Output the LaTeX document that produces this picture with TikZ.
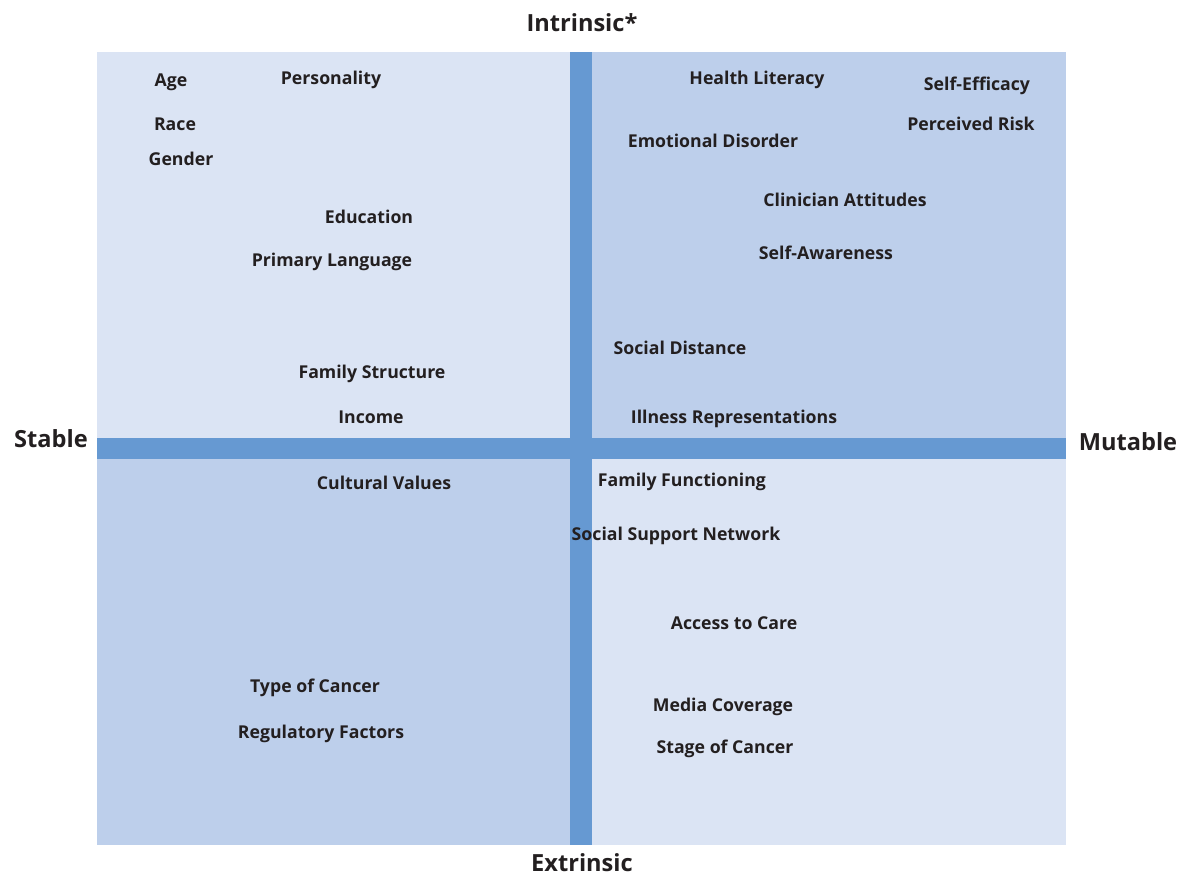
\documentclass[tikz,border=0pt]{standalone}
\usepackage{fontspec}
\setmainfont{Open Sans}
\definecolor{qlight}{HTML}{DBE4F4}
\definecolor{qdark}{HTML}{BDCFEB}
\definecolor{qbar}{HTML}{6699D2}
\definecolor{qtext}{HTML}{231F20}
\begin{document}
\begin{tikzpicture}[x=1pt,y=-1pt,
  lbl/.style={inner sep=0pt,anchor=base,text=qtext,font=\fontsize{17.7}{20}\selectfont\bfseries},
  axis/.style={inner sep=0pt,anchor=base,text=qtext,font=\fontsize{23.6}{28}\selectfont\bfseries}]
\useasboundingbox (0,0) rectangle (1187,876);
\fill[qlight] (97,52) rectangle (581,449);
\fill[qdark] (581,52) rectangle (1066,449);
\fill[qdark] (97,449) rectangle (581,845);
\fill[qlight] (581,449) rectangle (1066,845);
\fill[qbar] (570,52) rectangle (592,845);
\fill[qbar] (97,438) rectangle (1066,459);
\node[axis] (intr) at (582,31) {Intrinsic*};
\node[axis] (stab) at (51,447) {Stable};
\node[axis] (mut) at (1128,450) {Mutable};
\node[axis] (extr) at (582,871) {Extrinsic};
\node[lbl] (age) at (171,86) {Age};
\node[lbl] (pers) at (331,84) {Personality};
\node[lbl] (race) at (175,130) {Race};
\node[lbl] (gend) at (181,165) {Gender};
\node[lbl] (educ) at (369,223) {Education};
\node[lbl] (plang) at (332,266) {Primary Language};
\node[lbl] (fstr) at (372,378) {Family Structure};
\node[lbl] (inc) at (371,423) {Income};
\node[lbl] (hlit) at (757,84) {Health Literacy};
\node[lbl] (seff) at (977,90) {Self-Efficacy};
\node[lbl] (prisk) at (971,130) {Perceived Risk};
\node[lbl] (emo) at (713,147) {Emotional Disorder};
\node[lbl] (clin) at (845,206) {Clinician Attitudes};
\node[lbl] (saw) at (826,259) {Self-Awareness};
\node[lbl] (sdist) at (680,354) {Social Distance};
\node[lbl] (ill) at (734,423) {Illness Representations};
\node[lbl] (cult) at (384,489) {Cultural Values};
\node[lbl] (ffun) at (682,486) {Family Functioning};
\node[lbl] (ssn) at (676,540) {Social Support Network};
\node[lbl] (acc) at (734,629) {Access to Care};
\node[lbl] (toc) at (315,692) {Type of Cancer};
\node[lbl] (reg) at (321,738) {Regulatory Factors};
\node[lbl] (media) at (723,711) {Media Coverage};
\node[lbl] (stage) at (725,753) {Stage of Cancer};
\end{tikzpicture}
\end{document}
